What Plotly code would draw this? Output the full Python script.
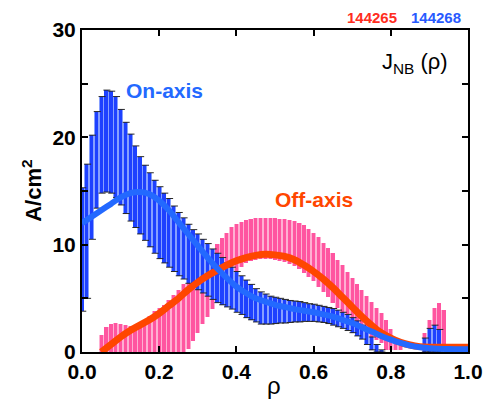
import plotly.graph_objects as go

# rho grid for error bars (step 0.0125)
rho_blue = [0.0, 0.0125, 0.025, 0.0375, 0.05, 0.0625, 0.075, 0.0875, 0.1, 0.1125,
            0.125, 0.1375, 0.15, 0.1625, 0.175, 0.1875, 0.2, 0.2125, 0.225, 0.2375,
            0.25, 0.2625, 0.275, 0.2875, 0.3, 0.3125, 0.325, 0.3375, 0.35, 0.3625,
            0.375, 0.3875, 0.4, 0.4125, 0.425, 0.4375, 0.45, 0.4625, 0.475, 0.4875,
            0.5, 0.5125, 0.525, 0.5375, 0.55, 0.5625, 0.575, 0.5875, 0.6, 0.6125,
            0.625, 0.6375, 0.65, 0.6625, 0.675, 0.6875, 0.7, 0.7125, 0.725, 0.7375,
            0.75, 0.7625, 0.775, 0.8875, 0.9, 0.9125, 0.925]
blue_upper = [15.3, 17.5, 20.2, 22.4, 23.8, 24.4, 24.3, 23.8, 22.6, 21.4,
              20.3, 19.2, 18.2, 17.4, 16.7, 16.0, 15.4, 14.8, 14.3, 13.6,
              13.0, 12.5, 11.9, 11.4, 11.0, 10.5, 10.1, 9.6, 9.2, 8.8,
              8.3, 7.9, 7.5, 7.1, 6.7, 6.3, 5.9, 5.6, 5.4, 5.2,
              5.1, 5.0, 4.9, 4.8, 4.75, 4.7, 4.6, 4.5, 4.45, 4.35,
              4.25, 4.15, 4.05, 3.9, 3.7, 3.5, 3.2, 2.9, 2.5, 2.0,
              1.4, 0.7, 0.2, 1.3, 2.2, 2.5, 2.1]
blue_lower = [3.8, 5.0, 10.5, 13.4, 14.8, 14.9, 14.8, 14.4, 13.7, 12.9,
              12.2, 11.6, 11.0, 10.4, 9.8, 9.2, 8.7, 8.3, 7.9, 7.5,
              7.1, 6.8, 6.4, 6.1, 5.8, 5.5, 5.2, 4.9, 4.6, 4.4,
              4.2, 4.0, 3.7, 3.5, 3.2, 3.0, 2.8, 2.6, 2.6, 2.6,
              2.65, 2.7, 2.7, 2.75, 2.8, 2.8, 2.85, 2.85, 2.85, 2.8,
              2.75, 2.65, 2.5, 2.35, 2.2, 2.0, 1.8, 1.5, 1.2, 0.7,
              0.2, 0.0, 0.0, 0.0, 0.0, 0.0, 0.0]

rho_pink = [0.05, 0.0625, 0.075, 0.0875, 0.1, 0.1125, 0.125, 0.1375, 0.15, 0.1625,
            0.175, 0.1875, 0.2, 0.2125, 0.225, 0.2375, 0.25, 0.2625, 0.275, 0.2875,
            0.3, 0.3125, 0.325, 0.3375, 0.35, 0.3625, 0.375, 0.3875, 0.4, 0.4125,
            0.425, 0.4375, 0.45, 0.4625, 0.475, 0.4875, 0.5, 0.5125, 0.525, 0.5375,
            0.55, 0.5625, 0.575, 0.5875, 0.6, 0.6125, 0.625, 0.6375, 0.65, 0.6625,
            0.675, 0.6875, 0.7, 0.7125, 0.725, 0.7375, 0.75, 0.7625, 0.775, 0.7875,
            0.8, 0.8125, 0.825, 0.8875, 0.9, 0.9125, 0.925, 0.9375]
pink_upper = [1.6, 2.3, 2.6, 2.7, 2.6, 2.5, 2.4, 2.5, 2.7, 3.0,
              3.4, 3.8, 4.1, 4.4, 4.8, 5.3, 5.8, 6.3, 6.8, 7.3,
              7.9, 8.5, 9.0, 9.6, 10.1, 10.6, 11.1, 11.6, 11.9, 12.1,
              12.3, 12.4, 12.5, 12.5, 12.5, 12.5, 12.5, 12.4, 12.4, 12.3,
              12.2, 12.0, 11.8, 11.5, 11.1, 10.7, 10.2, 9.7, 9.2, 8.6,
              8.1, 7.5, 6.9, 6.3, 5.8, 5.2, 4.7, 4.1, 3.6, 3.0,
              2.1, 1.3, 0.6, 1.8, 3.0, 4.1, 4.6, 3.9]
pink_lower = [0.0, 0.0, 0.0, 0.0, 0.0, 0.0, 0.0, 0.0, 0.0, 0.0,
              0.0, 0.0, 0.0, 0.0, 0.0, 0.0, 0.0, 0.0, 0.3, 1.0,
              1.8, 2.6, 3.3, 4.0, 4.7, 5.4, 6.1, 6.8, 7.4, 7.9,
              8.3, 8.5, 8.6, 8.7, 8.7, 8.7, 8.6, 8.5, 8.4, 8.2,
              8.0, 7.7, 7.4, 7.0, 6.6, 6.1, 5.6, 5.1, 4.6, 4.1,
              3.6, 3.1, 2.7, 2.3, 2.0, 1.7, 1.4, 1.1, 0.8, 0.2,
              0.2, 0.2, 0.2, 0.3, 0.3, 0.3, 0.3, 0.3]

# smooth fit curves
rho_fit = [0.0, 0.025, 0.05, 0.075, 0.1, 0.125, 0.15, 0.175, 0.2, 0.225,
           0.25, 0.275, 0.3, 0.325, 0.35, 0.375, 0.4, 0.425, 0.45, 0.475,
           0.5, 0.525, 0.55, 0.575, 0.6, 0.625, 0.65, 0.675, 0.7, 0.725,
           0.75, 0.775, 0.8, 0.825, 0.85, 0.875, 0.9, 0.925, 0.95, 0.975, 1.0]
on_axis_fit = [12.0, 12.6, 13.2, 13.8, 14.4, 14.8, 14.9, 14.7, 14.1, 13.2,
               12.1, 11.0, 9.9, 8.8, 7.8, 6.9, 6.1, 5.5, 5.0, 4.7,
               4.4, 4.2, 4.0, 3.85, 3.7, 3.5, 3.3, 3.0, 2.7, 2.3,
               1.9, 1.5, 1.15, 0.85, 0.6, 0.45, 0.35, 0.3, 0.27, 0.25, 0.25]
rho_off = [0.05, 0.075, 0.1, 0.125, 0.15, 0.175, 0.2, 0.225,
           0.25, 0.275, 0.3, 0.325, 0.35, 0.375, 0.4, 0.425, 0.45, 0.475,
           0.5, 0.525, 0.55, 0.575, 0.6, 0.625, 0.65, 0.675, 0.7, 0.725,
           0.75, 0.775, 0.8, 0.825, 0.85, 0.875, 0.9, 0.925, 0.95, 0.975, 1.0]
off_axis_fit = [0.0, 0.7, 1.4, 2.0, 2.5, 3.0, 3.6, 4.3,
                5.0, 5.8, 6.5, 7.1, 7.6, 8.1, 8.5, 8.8, 9.0, 9.1,
                9.05, 8.9, 8.6, 8.1, 7.5, 6.8, 6.0, 5.1, 4.2, 3.3,
                2.5, 1.8, 1.3, 0.9, 0.65, 0.5, 0.45, 0.45, 0.45, 0.45, 0.45]

x_ticks = [0.0, 0.2, 0.4, 0.6, 0.8, 1.0]
x_labels = ["0.0", "0.2", "0.4", "0.6", "0.8", "1.0"]
y_ticks = [0, 10, 20, 30]

BLUE = "rgb(30,65,255)"
BLUE_GAP = "rgb(135,160,255)"
BLUE_LINE = "rgb(35,105,255)"
PINK = "rgb(255,85,160)"
PINK_GAP = "rgb(255,175,210)"
ORANGE = "rgb(255,70,0)"
FONT = "Liberation Sans Narrow, Liberation Sans, Arial, sans-serif"

fig = go.Figure()

pink_len = [u - l for u, l in zip(pink_upper, pink_lower)]
blue_len = [u - l for u, l in zip(blue_upper, blue_lower)]

# light "gap" fill under each band, then the darker striped bars
fig.add_trace(go.Bar(x=rho_pink, y=pink_len, base=pink_lower, width=0.0125,
                     marker=dict(color=PINK_GAP, line=dict(width=0)), showlegend=False))
fig.add_trace(go.Bar(x=rho_pink, y=pink_len, base=pink_lower, width=0.0085,
                     marker=dict(color=PINK, line=dict(width=0)), showlegend=False))
fig.add_trace(go.Bar(x=rho_blue, y=blue_len, base=blue_lower, width=0.0125,
                     marker=dict(color=BLUE_GAP, line=dict(width=0)), showlegend=False))
fig.add_trace(go.Bar(x=rho_blue, y=blue_len, base=blue_lower, width=0.0085,
                     marker=dict(color=BLUE, line=dict(width=0)), showlegend=False))

caps_x = rho_blue + rho_blue
caps_y = blue_upper + blue_lower
fig.add_trace(go.Scatter(
    x=[v + 0.002 for v in caps_x], y=caps_y, mode="markers",
    marker=dict(symbol="line-ew", size=5, line=dict(color="rgb(40,40,40)", width=1)),
    showlegend=False, hoverinfo="skip"))

fig.add_trace(go.Scatter(
    x=rho_off, y=off_axis_fit, mode="lines", line=dict(color=ORANGE, width=7, shape="spline"),
    showlegend=False))
fig.add_trace(go.Scatter(
    x=rho_fit, y=on_axis_fit, mode="lines", line=dict(color=BLUE_LINE, width=6, shape="spline"),
    showlegend=False))

fig.update_layout(
    width=483, height=403,
    margin=dict(l=82, r=15, t=30, b=51, autoexpand=False),
    paper_bgcolor="white", plot_bgcolor="white",
    barmode="overlay", bargap=0,
    font=dict(family=FONT, color="black"),
    annotations=[
        dict(x=0.215, y=24.4, xref="x", yref="y", text="On-axis", showarrow=False,
             font=dict(size=21, color=BLUE_LINE, family=FONT, weight="bold")),
        dict(x=0.601, y=14.2, xref="x", yref="y", text="Off-axis", showarrow=False,
             font=dict(size=21, color=ORANGE, family=FONT, weight="bold")),
        dict(x=0.953, y=0.897, xref="paper", yref="paper", xanchor="right", yanchor="middle",
             text="J<sub>NB</sub> (ρ)", showarrow=False,
             font=dict(size=22, color="black", family=FONT)),
        dict(x=(399 - 82) / 386, y=1.04, xref="paper", yref="paper", xanchor="right",
             yanchor="middle", text="144265", showarrow=False,
             font=dict(size=15, color="rgb(255,45,30)", family=FONT, weight="bold")),
        dict(x=(463 - 82) / 386, y=1.04, xref="paper", yref="paper", xanchor="right",
             yanchor="middle", text="144268", showarrow=False,
             font=dict(size=15, color="rgb(40,90,255)", family=FONT, weight="bold")),
        dict(x=(274 - 82) / 386, y=-0.105, xref="paper", yref="paper", xanchor="center",
             yanchor="middle", text="ρ", showarrow=False,
             font=dict(size=24, color="black", family=FONT)),
        dict(x=-0.13, y=0.5, xref="paper", yref="paper", xanchor="center",
             yanchor="middle", text="A/cm<sup>2</sup>", textangle=-90, showarrow=False,
             font=dict(size=22, color="black", family=FONT, weight="bold")),
    ],
)

fig.update_xaxes(
    range=[0, 1], tickvals=x_ticks, ticktext=x_labels, automargin=False,
    ticks="inside", ticklen=6, tickwidth=1.5, tickcolor="black",
    showline=True, linecolor="black", linewidth=2, mirror="ticks",
    showgrid=False, zeroline=False,
    tickfont=dict(size=21, family=FONT, color="black", weight="bold"))
fig.update_yaxes(
    range=[0, 30], tickvals=y_ticks, automargin=False,
    ticks="inside", ticklen=6, tickwidth=1.5, tickcolor="black",
    minor=dict(dtick=5, ticks="inside", ticklen=6, tickwidth=1.5, tickcolor="black", showgrid=False),
    showline=True, linecolor="black", linewidth=2, mirror="ticks",
    showgrid=False, zeroline=False,
    tickfont=dict(size=21, family=FONT, color="black", weight="bold"))

fig.write_html("out.html", config={"displayModeBar": False},
               post_script="document.body.style.margin='0px';")
